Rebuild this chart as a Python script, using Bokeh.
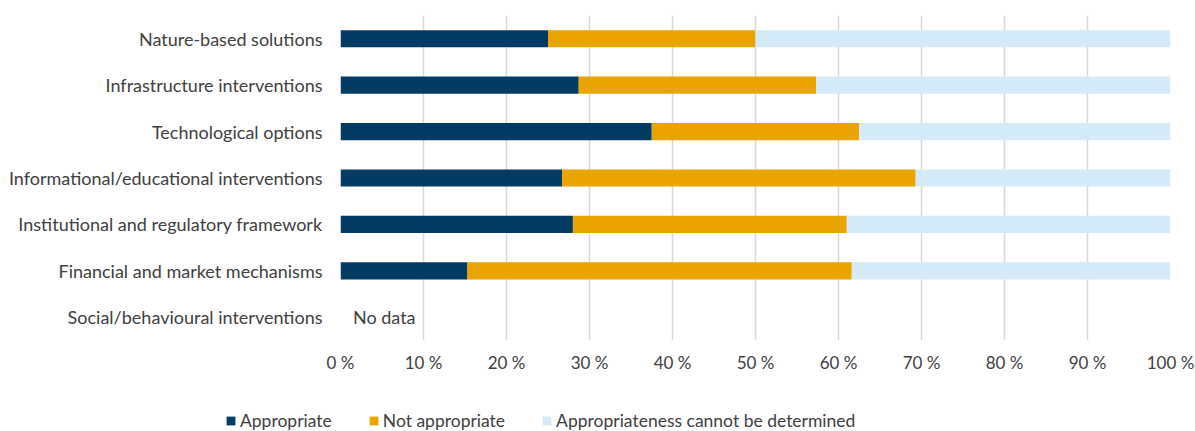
from bokeh.plotting import figure
from bokeh.models import Range1d, FactorRange, FixedTicker, Legend, LegendItem
from bokeh.core.properties import value
from bokeh.embed import file_html
from bokeh.resources import INLINE

categories = [
    "Nature-based solutions",
    "Infrastructure interventions",
    "Technological options",
    "Informational/educational interventions",
    "Institutional and regulatory framework",
    "Financial and market mechanisms",
    "Social/behavioural interventions",
]
appropriate = [25.0, 28.7, 37.5, 26.7, 28.0, 15.3, 0.0]
not_appropriate = [25.0, 28.6, 25.0, 42.6, 33.0, 46.3, 0.0]
cannot_determine = [50.0, 42.7, 37.5, 30.7, 39.0, 38.4, 0.0]
series_names = ["Appropriate", "Not appropriate", "Appropriateness cannot be determined"]
colors = ["#023b64", "#e9a400", "#d5ebfa"]
tick_values = [0, 10, 20, 30, 40, 50, 60, 70, 80, 90, 100]
tick_labels = ["0 %", "10 %", "20 %", "30 %", "40 %", "50 %", "60 %", "70 %", "80 %", "90 %", "100 %"]
no_data_label = "No data"
no_data_category = "Social/behavioural interventions"

FONT = "Lato"
TEXT_COLOR = "#404040"

p = figure(
    width=1195, height=391,
    y_range=FactorRange(*reversed(categories)),
    x_range=Range1d(0, 100),
    output_backend="svg", toolbar_location=None,
    min_border_left=340, min_border_right=25, min_border_top=15, min_border_bottom=51,
)

data = dict(cat=categories, a=appropriate, n=not_appropriate, c=cannot_determine)
p.hbar_stack(["a", "n", "c"], y="cat", height=0.37, color=colors,
             source=data, line_color=None)

p.text(x=[1.5], y=[no_data_category], text=[no_data_label],
       text_font=value(FONT), text_font_size="18px", text_color=TEXT_COLOR,
       text_baseline="middle", text_align="left")

p.xaxis.ticker = FixedTicker(ticks=tick_values)
p.xaxis.major_label_overrides = {v: l for v, l in zip(tick_values, tick_labels)}
for ax in (p.xaxis, p.yaxis):
    ax.axis_line_color = None
    ax.major_tick_line_color = None
    ax.minor_tick_line_color = None
    ax.major_tick_out = 0
    ax.major_tick_in = 0
    ax.major_label_text_font = FONT
    ax.major_label_text_color = TEXT_COLOR
p.xaxis.major_label_text_font_size = "17px"
p.yaxis.major_label_text_font_size = "18px"
p.xaxis.major_label_standoff = 11
p.yaxis.major_label_standoff = 18

p.xgrid.grid_line_color = "#d9d9d9"
p.xgrid.grid_line_width = 1.5
p.ygrid.grid_line_color = None
p.outline_line_color = None

# legend strip: a second root placed under the chart
lg = figure(
    width=1195, height=40, x_range=Range1d(0, 1), y_range=Range1d(0, 1),
    x_axis_type=None, y_axis_type=None,
    output_backend="svg", toolbar_location=None, min_border=0,
)
lg.outline_line_color = None
lg.xgrid.visible = False
lg.ygrid.visible = False
swatches = [lg.hbar(y=[-5], right=[1], height=1, color=c, line_color=None) for c in colors]
legend = Legend(
    items=[LegendItem(label=n, renderers=[r]) for n, r in zip(series_names, swatches)],
    orientation="horizontal", location=(225, 0),
    glyph_width=11, glyph_height=11, label_standoff=4, spacing=36,
    label_text_font=FONT, label_text_font_size="17.5px", label_text_color=TEXT_COLOR,
    border_line_color=None, background_fill_alpha=0, padding=0, margin=0,
)
lg.add_layout(legend, "center")

open("out.html", "w").write(file_html([p, lg], INLINE))
